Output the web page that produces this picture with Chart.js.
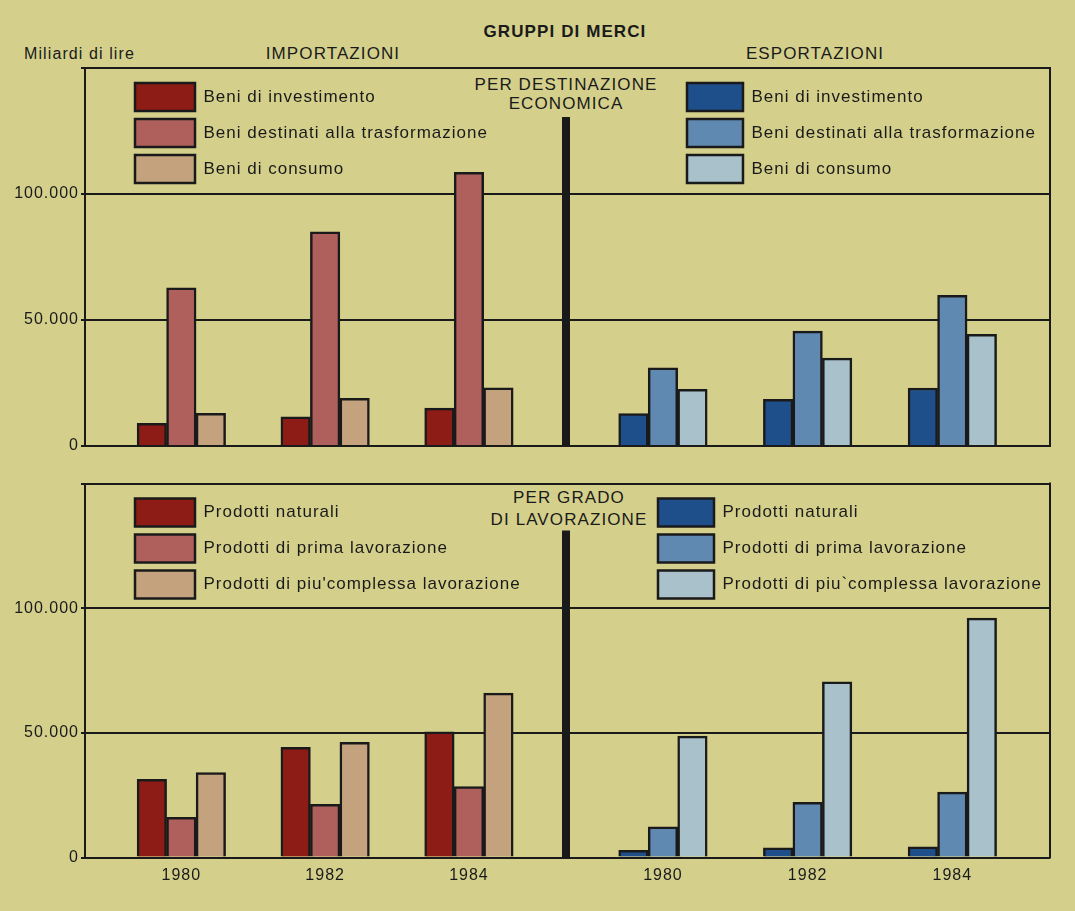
<!DOCTYPE html>
<html>
<head>
<meta charset="utf-8">
<title>Gruppi di merci</title>
<script src="https://cdn.jsdelivr.net/npm/chart.js@4"></script>
<style>
    html, body { margin: 0; padding: 0; background: #d4d08c; }
    #sheet {
        position: relative;
        width: 1075px;
        height: 911px;
        overflow: hidden;
        background: #d4d08c;
        font-family: 'Liberation Sans', Arial, sans-serif;
        color: #1a1a1a;
    }
    .lbl {
        position: absolute;
        font-size: 17px;
        letter-spacing: 1.1px;
        line-height: 20px;
        white-space: nowrap;
    }
    .center { width: 240px; text-align: center; }
    canvas { position: absolute; }
</style>
</head>
<body>
<div id="sheet">
    <div class="lbl center" style="left:445px; top:22px; font-weight:bold;">GRUPPI DI MERCI</div>
    <div class="lbl" style="left:24px; top:44px; font-size:16px;">Miliardi di lire</div>
    <div class="lbl center" style="left:213px; top:44px;">IMPORTAZIONI</div>
    <div class="lbl center" style="left:695px; top:44px;">ESPORTAZIONI</div>
    <div class="lbl center" style="left:446px; top:75px; line-height:19px;">PER DESTINAZIONE<br>ECONOMICA</div>
    <div class="lbl center" style="left:449px; top:487px; line-height:22px;">PER GRADO<br>DI LAVORAZIONE</div>

    <canvas id="topEsp" width="509" height="406" style="left:566px; top:54px;"></canvas>
    <canvas id="topImp" width="575" height="406" style="left:0; top:54px;"></canvas>
    <canvas id="botEsp" width="509" height="442" style="left:566px; top:469px;"></canvas>
    <canvas id="botImp" width="575" height="442" style="left:0; top:469px;"></canvas>
</div>

<script>
// Data (miliardi di lire)
const years = [1980, 1982, 1984];
const yTickLabels = ['0', '50.000', '100.000', ''];

// per destinazione economica
const impInvestimento = [9000, 11600, 15000];
const impTrasformazione = [62800, 85000, 108600];
const impConsumo = [13000, 18900, 23100];
const espInvestimento = [12900, 18500, 23000];
const espTrasformazione = [31000, 45600, 59800];
const espConsumo = [22500, 34900, 44300];

// per grado di lavorazione
const impNaturali = [31400, 44200, 50400];
const impPrima = [16100, 21300, 28400];
const impComplessa = [34100, 46200, 65900];
const espNaturali = [2900, 3900, 4300];
const espPrima = [12300, 22100, 26200];
const espComplessa = [48700, 70500, 96000];

const ink = '#1a1a1a';
const reds = ['#8c1c15', '#b0605c', '#c4a27e'];
const blues = ['#1f4f8b', '#5f89b1', '#a8c1ca'];

Chart.defaults.font.family = "'Liberation Sans', Arial, sans-serif";
Chart.defaults.color = ink;

// the printed lettering is widely spaced
const textSpacing = {
    id: 'textSpacing',
    beforeLayout(chart) { chart.ctx.letterSpacing = '1px'; },
    beforeDraw(chart) { chart.ctx.letterSpacing = '1px'; }
};

// legend inside the frame, divider and right edge of the frame
const panelLines = {
    id: 'panelLines',
    afterLayout(chart, args, o) {
        const lg = chart.legend;
        const a = chart.chartArea;
        lg.left = a.left + o.legendX;
        lg.top = a.top + o.legendY;
        lg.right = lg.left + lg.width;
        lg.bottom = lg.top + lg.height;
    },
    afterDraw(chart, args, o) {
        const ctx = chart.ctx;
        const a = chart.chartArea;
        ctx.save();
        ctx.fillStyle = ink;
        if (o.divider != null) {
            ctx.fillRect(a.right - 4, a.top + o.divider, 8, a.bottom - a.top - o.divider + 1);
        }
        if (o.frameRight) {
            ctx.fillRect(a.right - 1, a.top - 1, 2, a.bottom - a.top + 2);
        }
        ctx.restore();
    }
};

function makeChart(id, cfg) {
    const isImp = cfg.side === 'imp';
    return new Chart(document.getElementById(id), {
        type: 'bar',
        data: {
            labels: years,
            datasets: cfg.series.map((s, i) => ({
                label: s[0],
                data: s[1],
                backgroundColor: cfg.colors[i],
                borderColor: ink,
                borderWidth: 2.5,
                barThickness: 29.5
            }))
        },
        options: {
            responsive: false,
            animation: false,
            devicePixelRatio: 1,
            layout: {
                padding: { left: 0, top: cfg.padTop, right: isImp ? 9 : 25, bottom: cfg.padBottom }
            },
            scales: {
                x: {
                    type: 'linear',
                    offset: false,
                    min: 1978.66,
                    max: 1985.35,
                    display: cfg.showYears,
                    grid: { display: false, drawTicks: false, offset: false },
                    border: { display: false },
                    afterBuildTicks: scale => { scale.ticks = years.map(v => ({ value: v })); },
                    afterFit: scale => { scale.height = cfg.showYears ? 30 : 0; },
                    ticks: {
                        padding: 8,
                        font: { size: 16 },
                        color: ink,
                        callback: v => String(v)
                    }
                },
                y: {
                    min: 0,
                    max: 150000,
                    afterFit: scale => { scale.width = isImp ? 85 : 0; },
                    ticks: {
                        stepSize: 50000,
                        display: isImp,
                        padding: 2,
                        font: { size: 16 },
                        color: ink,
                        callback: (v, i) => yTickLabels[i]
                    },
                    grid: { color: ink, lineWidth: 2, drawTicks: isImp, tickLength: 4 },
                    border: { display: isImp, color: ink, width: 2 }
                }
            },
            plugins: {
                tooltip: { enabled: false },
                legend: {
                    position: 'chartArea',
                    align: 'start',
                    labels: {
                        boxWidth: isImp ? 60 : 56,
                        boxHeight: 28,
                        padding: 8,
                        color: ink,
                        font: { size: 17 }
                    }
                },
                panelLines: {
                    legendX: cfg.legendX,
                    legendY: 7,
                    divider: isImp ? cfg.divider : null,
                    frameRight: !isImp
                }
            }
        },
        plugins: [textSpacing, panelLines]
    });
}

// top panel: per destinazione economica
makeChart('topEsp', {
    side: 'esp', padTop: 14, padBottom: 14, showYears: false, legendX: 113, colors: blues,
    series: [
        ['Beni di investimento', espInvestimento],
        ['Beni destinati alla trasformazione', espTrasformazione],
        ['Beni di consumo', espConsumo]
    ]
});
makeChart('topImp', {
    side: 'imp', padTop: 14, padBottom: 14, showYears: false, legendX: 42, divider: 49, colors: reds,
    series: [
        ['Beni di investimento', impInvestimento],
        ['Beni destinati alla trasformazione', impTrasformazione],
        ['Beni di consumo', impConsumo]
    ]
});

// bottom panel: per grado di lavorazione
makeChart('botEsp', {
    side: 'esp', padTop: 14.5, padBottom: 23.5, showYears: true, legendX: 84, colors: blues,
    series: [
        ['Prodotti naturali', espNaturali],
        ['Prodotti di prima lavorazione', espPrima],
        ['Prodotti di piu`complessa lavorazione', espComplessa]
    ]
});
makeChart('botImp', {
    side: 'imp', padTop: 14.5, padBottom: 23.5, showYears: true, legendX: 42, divider: 47, colors: reds,
    series: [
        ['Prodotti naturali', impNaturali],
        ['Prodotti di prima lavorazione', impPrima],
        ["Prodotti di piu'complessa lavorazione", impComplessa]
    ]
});
</script>
</body>
</html>
